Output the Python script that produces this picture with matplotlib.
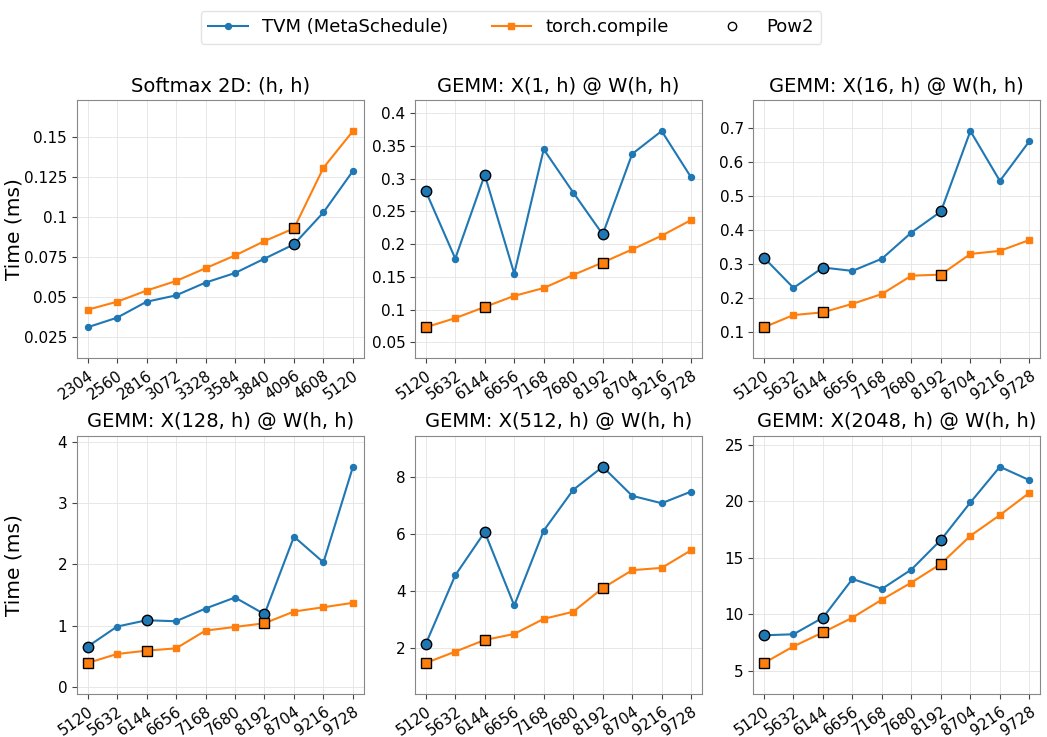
import matplotlib
matplotlib.use("Agg")
import matplotlib.pyplot as plt
from matplotlib.ticker import MultipleLocator, FuncFormatter
from matplotlib.lines import Line2D

softmax_x = ["2304", "2560", "2816", "3072", "3328", "3584", "3840", "4096", "4608", "5120"]
gemm_x = ["5120", "5632", "6144", "6656", "7168", "7680", "8192", "8704", "9216", "9728"]

titles = ["Softmax 2D: (h, h)", "GEMM: X(1, h) @ W(h, h)", "GEMM: X(16, h) @ W(h, h)",
          "GEMM: X(128, h) @ W(h, h)", "GEMM: X(512, h) @ W(h, h)", "GEMM: X(2048, h) @ W(h, h)"]

softmax_tvm = [0.031, 0.037, 0.047, 0.051, 0.059, 0.065, 0.074, 0.083, 0.103, 0.129]
softmax_torch = [0.042, 0.047, 0.054, 0.060, 0.068, 0.076, 0.085, 0.093, 0.131, 0.154]

g1_tvm = [0.281, 0.178, 0.306, 0.155, 0.345, 0.279, 0.215, 0.338, 0.373, 0.302]
g1_torch = [0.073, 0.087, 0.104, 0.121, 0.133, 0.153, 0.172, 0.192, 0.213, 0.237]

g16_tvm = [0.318, 0.229, 0.289, 0.279, 0.315, 0.392, 0.454, 0.691, 0.544, 0.661]
g16_torch = [0.113, 0.149, 0.157, 0.182, 0.211, 0.265, 0.268, 0.329, 0.338, 0.370]

g128_tvm = [0.656, 0.984, 1.087, 1.071, 1.279, 1.459, 1.186, 2.454, 2.033, 3.596]
g128_torch = [0.388, 0.536, 0.590, 0.628, 0.918, 0.978, 1.038, 1.230, 1.300, 1.372]

g512_tvm = [2.13, 4.54, 6.06, 3.48, 6.11, 7.54, 8.35, 7.33, 7.07, 7.48]
g512_torch = [1.46, 1.86, 2.27, 2.48, 3.01, 3.26, 4.09, 4.72, 4.80, 5.42]

g2048_tvm = [8.16, 8.25, 9.72, 13.14, 12.26, 13.97, 16.59, 19.90, 23.05, 21.87]
g2048_torch = [5.71, 7.18, 8.42, 9.72, 11.31, 12.82, 14.47, 16.95, 18.78, 20.75]

softmax_pow2 = ["4096"]
gemm_pow2 = ["5120", "6144", "8192"]

panels = [
    (softmax_x, softmax_tvm, softmax_torch, softmax_pow2, 0.025),
    (gemm_x, g1_tvm, g1_torch, gemm_pow2, 0.05),
    (gemm_x, g16_tvm, g16_torch, gemm_pow2, 0.1),
    (gemm_x, g128_tvm, g128_torch, gemm_pow2, 1),
    (gemm_x, g512_tvm, g512_torch, gemm_pow2, 2),
    (gemm_x, g2048_tvm, g2048_torch, gemm_pow2, 5),
]

BLUE = "#1f77b4"
ORANGE = "#ff7f0e"

fig, axes = plt.subplots(2, 3, figsize=(10.47, 7.37), dpi=100)
fig.subplots_adjust(left=0.0735, right=0.9933, top=0.8643, bottom=0.0583,
                    wspace=0.18, hspace=0.30)

fmt = FuncFormatter(lambda v, p: "%g" % round(v, 6))

for i, (ax, (xl, tvm, torch, pow2, step)) in enumerate(zip(axes.flat, panels)):
    idx = list(range(len(xl)))
    ax.plot(idx, tvm, color=BLUE, lw=1.5, marker="o", ms=4.3, zorder=3)
    ax.plot(idx, torch, color=ORANGE, lw=1.5, marker="s", ms=4.3, zorder=3)
    pi = [xl.index(p) for p in pow2]
    ax.plot(pi, [tvm[j] for j in pi], ls="none", marker="o", ms=7.5,
            mfc=BLUE, mec="black", mew=1.0, zorder=4)
    ax.plot(pi, [torch[j] for j in pi], ls="none", marker="s", ms=7.5,
            mfc=ORANGE, mec="black", mew=1.0, zorder=4)
    ax.set_xticks(idx)
    ax.set_xticklabels(xl, rotation=35, ha="right", rotation_mode="anchor", fontsize=11)
    ax.margins(x=0.04, y=0.158)
    ax.yaxis.set_major_locator(MultipleLocator(step))
    ax.yaxis.set_major_formatter(fmt)
    ax.tick_params(axis="y", labelsize=11)
    ax.tick_params(colors="#444444", labelcolor="black", length=3.5)
    ax.grid(True, color="#e3e3e3", lw=0.6)
    ax.set_axisbelow(True)
    for s in ax.spines.values():
        s.set_color("#888888")
    ax.set_title(titles[i], fontsize=14)
    if i % 3 == 0:
        ax.set_ylabel("Time (ms)", fontsize=14.5)
        ax.yaxis.set_label_coords(-0.187, 0.5)

handles = [
    Line2D([], [], color=BLUE, lw=1.5, marker="o", ms=4.3),
    Line2D([], [], color=ORANGE, lw=1.5, marker="s", ms=4.3),
    Line2D([], [], ls="none", marker="o", ms=6, mfc="white", mec="black", mew=1.0),
]
fig.legend(handles, ["TVM (MetaSchedule)", "torch.compile", "Pow2"], loc="upper center",
           bbox_to_anchor=(0.488, 0.997), ncol=3, fontsize=13, columnspacing=2.4,
           handlelength=2.2, frameon=True, edgecolor="#dddddd")

fig.savefig("out.png", dpi=100)
